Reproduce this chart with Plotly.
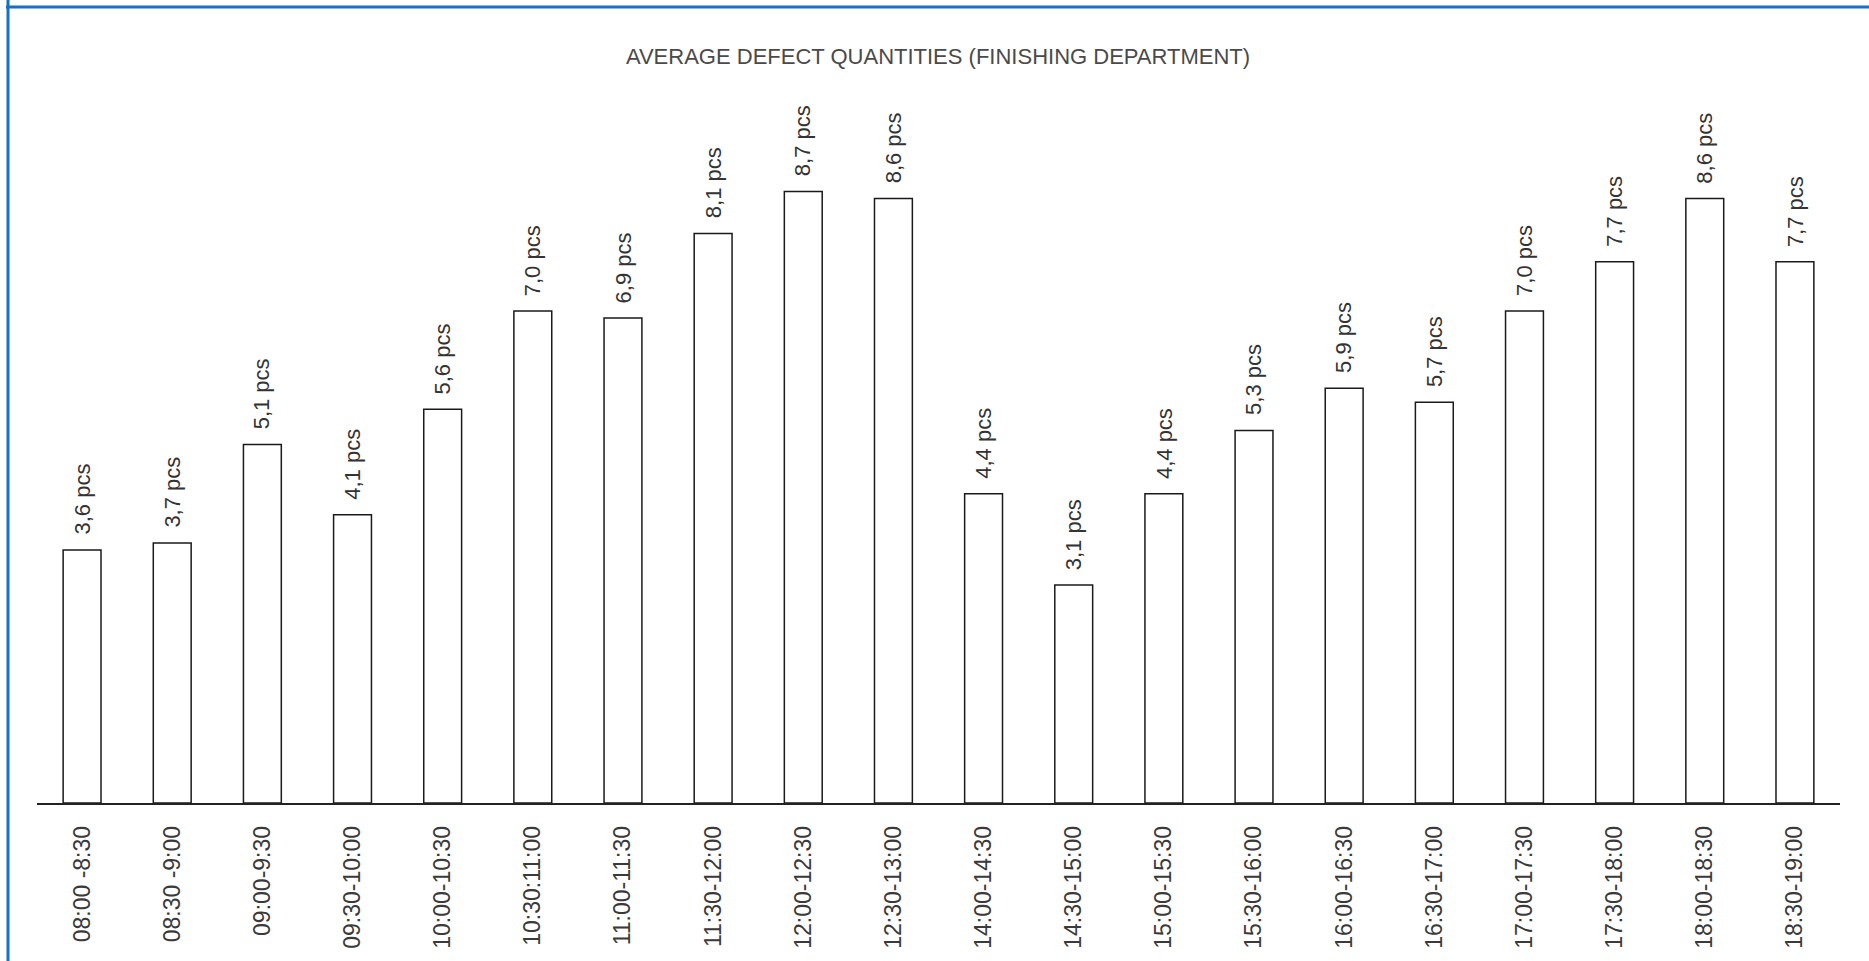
import plotly.graph_objects as go

# Half-hour production slots and the average number of defective pieces per slot
time_slots = [
    "08:00 -8:30", "08:30 -9:00", "09:00-9:30", "09:30-10:00", "10:00-10:30",
    "10:30:11:00", "11:00-11:30", "11:30-12:00", "12:00-12:30", "12:30-13:00",
    "14:00-14:30", "14:30-15:00", "15:00-15:30", "15:30-16:00", "16:00-16:30",
    "16:30-17:00", "17:00-17:30", "17:30-18:00", "18:00-18:30", "18:30-19:00",
]
avg_defects = [
    3.6, 3.7, 5.1, 4.1, 5.6,
    7.0, 6.9, 8.1, 8.7, 8.6,
    4.4, 3.1, 4.4, 5.3, 5.9,
    5.7, 7.0, 7.7, 8.6, 7.7,
]
title_text = "AVERAGE DEFECT QUANTITIES (FINISHING DEPARTMENT)"

W, H = 1869, 961
M_L, M_R, M_T, M_B = 37, 29, 100, 158
PLOT_W = W - M_L - M_R
PLOT_H = H - M_T - M_B


def px_x(px):
    return (px - M_L) / PLOT_W


def px_y(py):
    return (H - M_B - py) / PLOT_H


def fmt(v):
    return f"{v:.1f}".replace(".", ",") + " pcs"


fig = go.Figure(
    go.Bar(
        x=time_slots,
        y=avg_defects,
        width=0.42,
        marker=dict(color="white", line=dict(color="#1a1a1a", width=1.5)),
        hoverinfo="x+y",
    )
)

# Rotated value labels sitting above each bar
for slot, v in zip(time_slots, avg_defects):
    fig.add_annotation(
        x=slot, y=v, text=fmt(v), textangle=-90, showarrow=False,
        xanchor="center", yanchor="bottom", yshift=13,
        font=dict(family="Liberation Sans, Arial, sans-serif", size=22, color="#333333"),
    )

# Window frame on the left and top edges
frame = "#1670c4"
fig.add_shape(type="line", xref="paper", yref="paper",
              x0=px_x(8), x1=px_x(8), y0=px_y(0), y1=px_y(H),
              line=dict(color=frame, width=3))
fig.add_shape(type="line", xref="paper", yref="paper",
              x0=px_x(6), x1=px_x(W), y0=px_y(7), y1=px_y(7),
              line=dict(color=frame, width=3))

fig.update_layout(
    width=W, height=H,
    margin=dict(l=M_L, r=M_R, t=M_T, b=M_B),
    paper_bgcolor="white", plot_bgcolor="white",
    showlegend=False,
    title=dict(
        text=title_text, x=px_x(938), xref="paper", xanchor="center",
        y=1 - 56 / H, yref="container", yanchor="middle",
        font=dict(family="Liberation Sans, Arial, sans-serif",
                  size=22, color="#4a4a4a"),
    ),
)
fig.update_xaxes(
    type="category", showline=True, linecolor="#222222", linewidth=1.5,
    showgrid=False, ticks="", tickangle=-90, ticklabelstandoff=12,
    tickfont=dict(family="Liberation Sans, Arial, sans-serif", size=23, color="#3a3a3a"),
    range=[-0.5, len(time_slots) - 0.5],
)
fig.update_yaxes(range=[0, 10], visible=False, showgrid=False, zeroline=False)

fig.write_html("out.html")
